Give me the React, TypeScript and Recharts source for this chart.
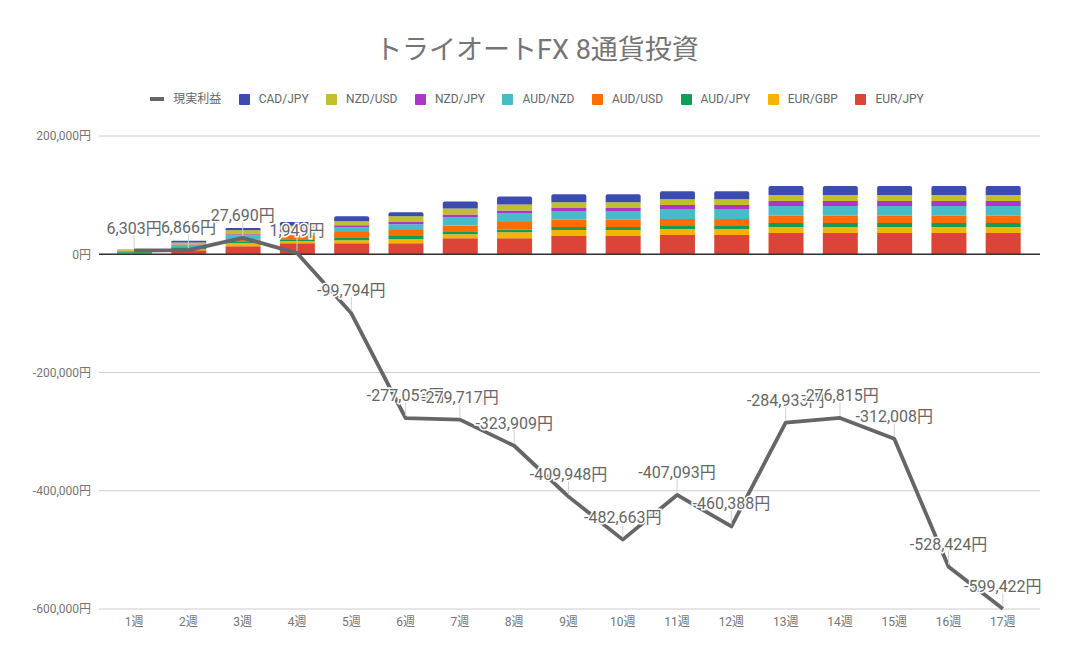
import React from 'react';
import { ComposedChart, Bar, Line, XAxis, YAxis, CartesianGrid, ReferenceLine, LabelList } from 'recharts';

const weeks = ['1週', '2週', '3週', '4週', '5週', '6週', '7週', '8週', '9週', '10週', '11週', '12週', '13週', '14週', '15週', '16週', '17週'];
const eurJpy = [1700, 6800, 13500, 18600, 18600, 18600, 27000, 27000, 31000, 31000, 32700, 32700, 36000, 36000, 36000, 36000, 36000];
const eurGbp = [800, 1700, 5000, 3400, 5000, 6800, 6800, 10000, 10000, 10000, 10000, 10000, 10000, 10000, 10000, 10000, 10000];
const audJpy = [1500, 2200, 3400, 3400, 5000, 5600, 5000, 5000, 5000, 5000, 5000, 5000, 6800, 6800, 6800, 6800, 6800];
const audUsd = [0, 1500, 3400, 6800, 9000, 10000, 10000, 12400, 12400, 12400, 11800, 11800, 12400, 12400, 12400, 12400, 12400];
const audNzd = [1500, 2500, 6800, 7000, 8000, 9600, 13500, 14700, 14700, 14700, 16900, 16900, 16400, 16400, 16400, 16400, 16400];
const nzdJpy = [500, 1700, 1700, 3000, 3400, 5000, 5000, 5000, 5000, 5000, 6800, 6800, 8500, 8500, 8500, 8500, 8500];
const nzdUsd = [1500, 3400, 6800, 6000, 6800, 8500, 10000, 10000, 10000, 10000, 10000, 10000, 10000, 10000, 10000, 10000, 10000];
const cadJpy = [500, 3000, 4000, 6400, 8500, 6800, 11800, 13500, 13500, 13500, 13500, 13500, 15200, 15200, 15200, 15200, 15200];
const profit = [6303, 6866, 27690, 1949, -99794, -277053, -279717, -323909, -409948, -482663, -407093, -460388, -284933, -276815, -312008, -528424, -599422];
const yTicks = [-600000, -400000, -200000, 0, 200000];

const series = [
  { key: 'EUR/JPY', values: eurJpy, color: '#db4437' },
  { key: 'EUR/GBP', values: eurGbp, color: '#f4b400' },
  { key: 'AUD/JPY', values: audJpy, color: '#0f9d58' },
  { key: 'AUD/USD', values: audUsd, color: '#ff6d00' },
  { key: 'AUD/NZD', values: audNzd, color: '#46bdc6' },
  { key: 'NZD/JPY', values: nzdJpy, color: '#ab37c8' },
  { key: 'NZD/USD', values: nzdUsd, color: '#c2c02a' },
  { key: 'CAD/JPY', values: cadJpy, color: '#3b4cae' },
];

const data = weeks.map((w, i) => {
  const row: any = { week: w, profit: profit[i] };
  series.forEach((s) => { row[s.key] = s.values[i]; });
  return row;
});

const FONT = "Roboto, 'Noto Sans CJK JP', sans-serif";
const fmt = (v: number) => `${v.toLocaleString('en-US')}円`;

const ProfitLabel = (props: any) => {
  const { x, y, value } = props;
  if (x == null || y == null) return null;
  return (
    <g>
      <line x1={x} x2={x} y1={y - 2} y2={y - 16} stroke="#d0d0d0" strokeWidth={1} />
      <text
        x={x}
        y={y - 17}
        textAnchor="middle"
        fontSize={16}
        fill="#666"
        stroke="#fff"
        strokeWidth={3}
        paintOrder="stroke"
        fontFamily={FONT}
      >
        {fmt(value)}
      </text>
    </g>
  );
};

export default function App() {
  const legendItems = [{ key: '現実利益', color: '#666', line: true }, ...series.slice().reverse().map((s) => ({ key: s.key, color: s.color, line: false }))];
  return (
    <div style={{ position: 'absolute', left: 0, top: 0, width: 1074, height: 664, background: '#fff', fontFamily: FONT }}>
      <div style={{ position: 'absolute', left: 0, top: 32, width: 1074, textAlign: 'center', fontSize: 27, color: '#757575', lineHeight: '36px' }}>
        トライオートFX 8通貨投資
      </div>
      <div style={{ position: 'absolute', left: 0, top: 91, width: 1074, display: 'flex', justifyContent: 'center', alignItems: 'center', fontSize: 12, color: '#666', lineHeight: '16px' }}>
        {legendItems.map((it, i) => (
          <div key={it.key} style={{ display: 'flex', alignItems: 'center', marginRight: i === legendItems.length - 1 ? 0 : 17.5 }}>
            {it.line ? (
              <div style={{ width: 14, height: 4, background: it.color, marginRight: 9 }} />
            ) : (
              <div style={{ width: 11, height: 11, background: it.color, borderRadius: 1, marginRight: 9 }} />
            )}
            <span>{it.key}</span>
          </div>
        ))}
      </div>
      <div style={{ position: 'absolute', left: 0, top: 0 }}>
        <ComposedChart width={1074} height={664} data={data} margin={{ top: 136, right: 34, bottom: 25, left: 0 }}>
          <CartesianGrid horizontal vertical={false} stroke="#cccccc" />
          <XAxis
            dataKey="week"
            axisLine={false}
            tickLine={false}
            height={30}
            padding={{ left: 8, right: 10 }}
            tick={{ fontSize: 12, fill: '#757575', fontFamily: FONT }}
            interval={0}
          />
          <YAxis
            width={99}
            domain={[-600000, 200000]}
            ticks={yTicks}
            axisLine={false}
            tickLine={false}
            tickFormatter={fmt}
            tick={{ fontSize: 12, fill: '#757575', fontFamily: FONT }}
          />
          <ReferenceLine y={0} stroke="#333" strokeWidth={1.5} />
          {series.map((s, i) => (
            <Bar
              key={s.key}
              dataKey={s.key}
              stackId="a"
              fill={s.color}
              barSize={35}
              isAnimationActive={false}
              radius={i === series.length - 1 ? [2, 2, 0, 0] : 0}
            />
          ))}
          <Line
            dataKey="profit"
            stroke="#666"
            strokeWidth={3.8}
            dot={false}
            activeDot={false}
            isAnimationActive={false}
            strokeLinejoin="round"
          >
            <LabelList dataKey="profit" content={ProfitLabel} />
          </Line>
        </ComposedChart>
      </div>
    </div>
  );
}
